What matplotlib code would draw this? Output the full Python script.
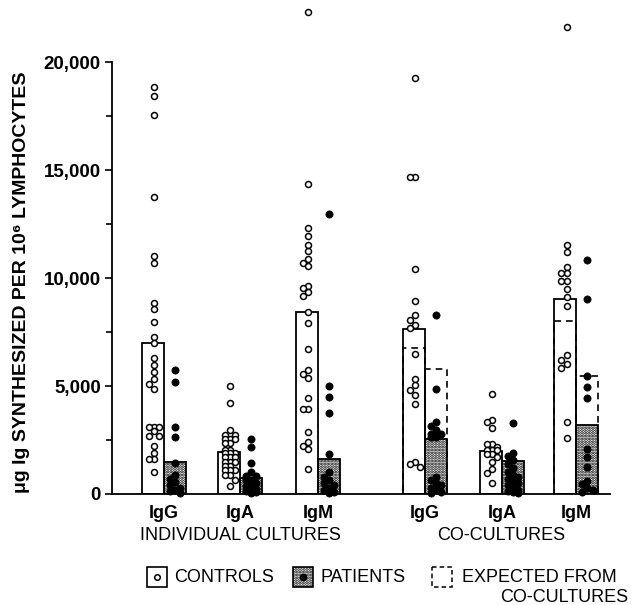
import numpy as np
import matplotlib
matplotlib.use("Agg")
import matplotlib.pyplot as plt
from matplotlib.patches import Rectangle
from matplotlib.ticker import FixedLocator, FuncFormatter

plt.rcParams["font.family"] = ["Liberation Sans", "DejaVu Sans"]
plt.rcParams["hatch.linewidth"] = 1.4

# ---- data (ug Ig per 10^6 lymphocytes) ----
ISOTYPES = ["IgG", "IgA", "IgM", "IgG", "IgA", "IgM"]
GROUPS = ["INDIVIDUAL CULTURES", "CO-CULTURES"]

ctrl_mean = [7000, 1960, 8420, 7640, 1975, 9030]
pat_mean = [1480, 755, 1620, 2530, 1540, 3210]
ctrl_expected = [np.nan, np.nan, np.nan, 6760, np.nan, 8025]
pat_expected = [np.nan, np.nan, np.nan, 5770, np.nan, 5460]

ind_igg_ctrl = [18860, 18430, 17550, 13760, 11020, 10680, 8830, 8565, 7950, 7285,
                7005, 6280, 5955, 5630, 5325, 5090, 4845, 3115, 3115, 3115, 2915,
                2685, 2685, 2220, 1910, 1605, 1605, 1005]
ind_igg_pat = [5740, 5200, 3115, 2655, 1450, 900, 700, 550, 400, 300, 200, 120, 60]
ind_iga_ctrl = [5000, 4200, 2960, 2730, 2730, 2545, 2545, 2545, 2345, 2345, 2040,
                2040, 1885, 1885, 1885, 1700, 1700, 1700, 1495, 1495, 1495, 1295,
                1295, 1110, 1110, 1110, 880, 880, 650, 370]
ind_iga_pat = [2530, 2160, 1420, 1035, 830, 830, 650, 650, 500, 400, 350, 250,
               200, 150, 100, 50]
ind_igm_ctrl = [22320, 14340, 12330, 11940, 11540, 11230, 10900, 10700, 10570,
                9630, 9520, 9370, 9180, 8440, 7930, 6700, 5740, 5540, 5355, 4430,
                3920, 3920, 2885, 2420, 2235, 2070, 1160]
ind_igm_pat = [12960, 5000, 4475, 3765, 1850, 1000, 800, 650, 500, 400, 300, 200,
               100, 50]
co_igg_ctrl = [19250, 14660, 14660, 10400, 8950, 8290, 8055, 7825, 7700, 6480,
               5310, 5045, 4815, 4580, 4150, 1460, 1400, 1230]
co_igg_pat = [8290, 4845, 3350, 3150, 2965, 2780, 2780, 2780, 2650, 2650, 800, 650,
              500, 400, 300, 200, 100, 50]
co_iga_ctrl = [4630, 3425, 3320, 3040, 2315, 2315, 2160, 2035, 2035, 2035, 1850,
               1850, 1700, 1495, 1145, 985, 525]
co_iga_pat = [3270, 1910, 1760, 1575, 1400, 1200, 1000, 900, 800, 700, 600, 500,
              400, 300, 200, 150, 100, 50]
co_igm_ctrl = [21640, 11530, 11220, 10520, 10220, 10220, 9880, 9880, 9480, 9110,
               8700, 6440, 6205, 6000, 5820, 3350, 2580]
co_igm_pat = [10830, 9010, 5480, 4970, 4460, 2070, 1700, 1265, 600, 450, 300, 200,
              100]

ctrl_points = [ind_igg_ctrl, ind_iga_ctrl, ind_igm_ctrl, co_igg_ctrl, co_iga_ctrl, co_igm_ctrl]
pat_points = [ind_igg_pat, ind_iga_pat, ind_igm_pat, co_igg_pat, co_iga_pat, co_igm_pat]

# ---- layout ----
CENTERS = [2.36, 5.82, 9.36, 14.23, 17.73, 21.11]   # boundary between the two bars
W = 1.0
PX_X, PX_Y = 22.0, 0.0216   # pixels per x unit / per y unit
STIPPLE = "......"


def swarm(vals, center, half=0.42, step=0.24, gap=5.6):
    placed = []
    offs = [0.0]
    k = 1
    while k * step <= half:
        offs += [-k * step, k * step]
        k += 1
    xs = []
    for v in vals:
        best, best_d = 0.0, -1
        for o in offs:
            d = min([np.hypot((o - px) * PX_X, (v - py) * PX_Y) for px, py in placed] or [99])
            if d >= gap:
                best = o
                break
            if d > best_d:
                best, best_d = o, d
        placed.append((best, v))
        xs.append(center + best)
    return xs


fig = plt.figure(figsize=(6.35, 6.05), dpi=100)
ax = fig.add_axes([112 / 635, 111 / 605, 498 / 635, 494 / 605])

for i, c in enumerate(CENTERS):
    xc, xp = c - W / 2, c + W / 2
    # expected from co-cultures (dashed outlines)
    if not np.isnan(ctrl_expected[i]):
        ax.bar(xc, ctrl_expected[i], W, fill=False, ls=(0, (4, 3)), lw=1.2,
               edgecolor="black", zorder=2)
    if not np.isnan(pat_expected[i]):
        ax.bar(xp, pat_expected[i], W, fill=False, ls=(0, (4, 3)), lw=1.2,
               edgecolor="black", zorder=2)
    ax.bar(xc, ctrl_mean[i], W, facecolor="none", edgecolor="black", lw=1.3, zorder=3)
    ax.bar(xp, pat_mean[i], W, facecolor="white", edgecolor="black", lw=1.3,
           hatch=STIPPLE, zorder=1)
    ax.plot(swarm(ctrl_points[i], xc + 0.05), ctrl_points[i], "o", ms=4.3, mfc="white",
            mec="black", mew=1.1, zorder=4, clip_on=False)
    ax.plot(swarm(pat_points[i], xp), pat_points[i], "o", ms=5.2, mfc="black",
            mec="black", mew=0.5, zorder=4, clip_on=False)

ax.set_xlim(0, 498 / PX_X)
ax.set_ylim(0, 494 / 108 * 5000)
for s in ["top", "right"]:
    ax.spines[s].set_visible(False)
ax.spines["left"].set_bounds(0, 20000)
ax.spines["left"].set_linewidth(1.3)
ax.spines["bottom"].set_linewidth(1.3)

ax.yaxis.set_major_locator(FixedLocator([0, 5000, 10000, 15000, 20000]))
ax.yaxis.set_minor_locator(FixedLocator([2500, 7500, 12500, 17500]))
ax.yaxis.set_major_formatter(FuncFormatter(lambda v, p: f"{int(v):,}"))
ax.tick_params(axis="y", which="major", length=5, width=1.2, pad=3,
               labelsize=13.5)
ax.tick_params(axis="y", which="minor", length=4, width=1.2)
for t in ax.get_yticklabels():
    t.set_fontweight("bold")

ax.set_xticks(CENTERS)
ax.set_xticklabels(ISOTYPES, fontsize=13, fontweight="bold")
ax.tick_params(axis="x", length=0, pad=8)

fig.text(22 / 635, 1 - 282 / 605, "\u03bcg Ig SYNTHESIZED PER 10\u2076 LYMPHOCYTES",
         rotation=90, ha="center", va="center", fontsize=14, fontweight="bold")

# group labels under the isotypes
trans = ax.get_xaxis_transform()
ax.text(np.mean(CENTERS[:3]), -42 / 494, GROUPS[0], transform=trans, ha="center",
        va="center", fontsize=13)
ax.text(np.mean(CENTERS[3:]), -42 / 494, GROUPS[1], transform=trans, ha="center",
        va="center", fontsize=13)

# legend drawn in pixel coordinates
lg = fig.add_axes([0, 0, 1, 1], zorder=-1)
lg.set_xlim(0, 635)
lg.set_ylim(605, 0)
lg.axis("off")
lg.add_patch(Rectangle((147, 567), 20, 20, fill=False, lw=1.2))
lg.plot(157, 577, "o", ms=4, mfc="white", mec="black", mew=1.1)
lg.text(174, 577, "CONTROLS", va="center", fontsize=13)
lg.add_patch(Rectangle((293, 567), 20, 20, facecolor="white", edgecolor="black",
                       hatch=STIPPLE, lw=1.2))
lg.plot(303, 577, "o", ms=4.5, mfc="black", mec="black")
lg.text(320, 577, "PATIENTS", va="center", fontsize=13)
lg.add_patch(Rectangle((432, 567), 20, 20, fill=False, lw=1.1, ls=(0, (3, 2))))
lg.text(462, 577, "EXPECTED FROM", va="center", ha="left", fontsize=13)
lg.text(500, 597, "CO-CULTURES", va="center", ha="left", fontsize=13)

fig.savefig("out.png", dpi=100)
